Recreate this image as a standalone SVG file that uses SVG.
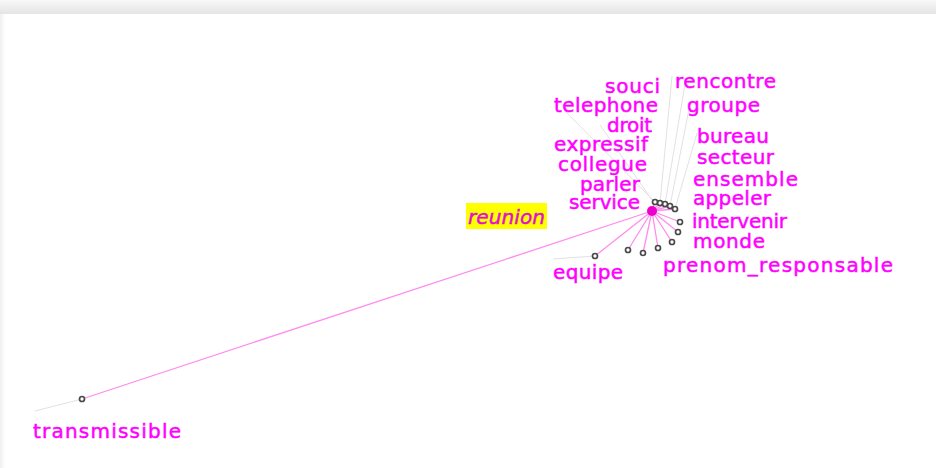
<svg xmlns="http://www.w3.org/2000/svg" width="936" height="468" viewBox="0 0 936 468">
<defs>
<linearGradient id="topg" x1="0" y1="0" x2="0" y2="1">
<stop offset="0" stop-color="#f8f8f8"/>
<stop offset="1" stop-color="#e4e4e4"/>
</linearGradient>
<linearGradient id="leftg" x1="0" y1="0" x2="1" y2="0">
<stop offset="0" stop-color="#f0f0f0"/>
<stop offset="1" stop-color="#fdfdfd"/>
</linearGradient>
<style>
.lbl{font-family:"DejaVu Sans","Liberation Sans",sans-serif;font-size:20px;fill:#ff00ff;stroke:#ff00ff;stroke-width:0.5}
.ctr{font-style:italic;fill:#e010d0;stroke:#e010d0}
.pk{stroke:#ff8cf0;stroke-width:1.3;fill:none}
.gr{stroke:#e2e2e2;stroke-width:1;fill:none}
.sn{fill:#ffffff;stroke:#4a4a4a;stroke-width:1.7}
</style>
</defs>
<rect x="0" y="0" width="936" height="468" fill="#ffffff"/>
<rect x="0" y="0" width="936" height="14" fill="url(#topg)"/>
<rect x="0" y="14" width="5" height="454" fill="url(#leftg)"/>
<g id="connectors">
<line class="gr" x1="82" y1="399" x2="35" y2="411"/>
<line class="gr" x1="595" y1="256" x2="553" y2="259"/>
<line class="gr" x1="665" y1="204" x2="686" y2="78"/>
<line class="gr" x1="660" y1="203" x2="672" y2="76"/>
<line class="gr" x1="670" y1="206" x2="690" y2="104"/>
<line class="gr" x1="675" y1="209" x2="697" y2="133"/>
<line class="gr" x1="655" y1="202" x2="566" y2="112"/>
<line class="gr" x1="654" y1="203" x2="600" y2="125"/>
<line class="pk" x1="652" y1="211" x2="82" y2="399"/>
<line class="pk" x1="652" y1="211" x2="595" y2="256"/>
<line class="pk" x1="652" y1="211" x2="628" y2="250"/>
<line class="pk" x1="652" y1="211" x2="643" y2="253"/>
<line class="pk" x1="652" y1="211" x2="658" y2="248"/>
<line class="pk" x1="652" y1="211" x2="672" y2="242"/>
<line class="pk" x1="652" y1="211" x2="678" y2="232"/>
<line class="pk" x1="652" y1="211" x2="680" y2="222"/>
<line class="pk" x1="652" y1="211" x2="675" y2="209"/>
<line class="pk" x1="652" y1="211" x2="670" y2="206"/>
<line class="pk" x1="652" y1="211" x2="665" y2="204"/>
<line class="pk" x1="652" y1="211" x2="660" y2="203"/>
<line class="pk" x1="652" y1="211" x2="655" y2="202"/>
</g>
<g id="node-reunion">
<rect x="466" y="203" width="81" height="26" fill="#ffff00"/>
<text class="lbl ctr" x="468" y="224" textLength="77">reunion</text>
<circle cx="652" cy="211" r="5" fill="#ee00cc"/>
</g>
<g id="node-transmissible"><circle class="sn" cx="82" cy="399" r="2.5"/><text class="lbl" x="33" y="438" textLength="148">transmissible</text></g>
<g id="node-equipe"><circle class="sn" cx="595" cy="256" r="2.5"/><text class="lbl" x="553" y="279" textLength="70">equipe</text></g>
<g id="node-prenom_responsable"><circle class="sn" cx="628" cy="250" r="2.5"/><text class="lbl" x="663" y="272" textLength="230">prenom_responsable</text></g>
<g id="node-monde"><circle class="sn" cx="643" cy="253" r="2.5"/><text class="lbl" x="693" y="248" textLength="72">monde</text></g>
<g id="node-intervenir"><circle class="sn" cx="658" cy="248" r="2.5"/><text class="lbl" x="692" y="228" textLength="95">intervenir</text></g>
<g id="node-appeler"><circle class="sn" cx="672" cy="242" r="2.5"/><text class="lbl" x="693" y="205" textLength="78">appeler</text></g>
<g id="node-ensemble"><circle class="sn" cx="678" cy="232" r="2.5"/><text class="lbl" x="693" y="186" textLength="105">ensemble</text></g>
<g id="node-secteur"><circle class="sn" cx="680" cy="222" r="2.5"/><text class="lbl" x="697" y="164" textLength="77">secteur</text></g>
<g id="node-bureau"><circle class="sn" cx="675" cy="209" r="2.5"/><text class="lbl" x="697" y="143" textLength="72">bureau</text></g>
<g id="node-groupe"><circle class="sn" cx="670" cy="206" r="2.5"/><text class="lbl" x="687" y="112" textLength="73">groupe</text></g>
<g id="node-rencontre"><circle class="sn" cx="665" cy="204" r="2.5"/><text class="lbl" x="675" y="88" textLength="101">rencontre</text></g>
<g id="node-souci"><circle class="sn" cx="660" cy="203" r="2.5"/><text class="lbl" x="605" y="93" textLength="55">souci</text></g>
<g id="node-telephone"><circle class="sn" cx="655" cy="202" r="2.5"/><text class="lbl" x="554" y="112" textLength="104">telephone</text></g>
<g id="node-droit"><text class="lbl" x="607" y="132" textLength="45">droit</text></g>
<g id="node-expressif"><text class="lbl" x="554" y="151" textLength="94">expressif</text></g>
<g id="node-collegue"><text class="lbl" x="558" y="171" textLength="89">collegue</text></g>
<g id="node-parler"><text class="lbl" x="580" y="191" textLength="60">parler</text></g>
<g id="node-service"><text class="lbl" x="569" y="209" textLength="71">service</text></g>
</svg>
